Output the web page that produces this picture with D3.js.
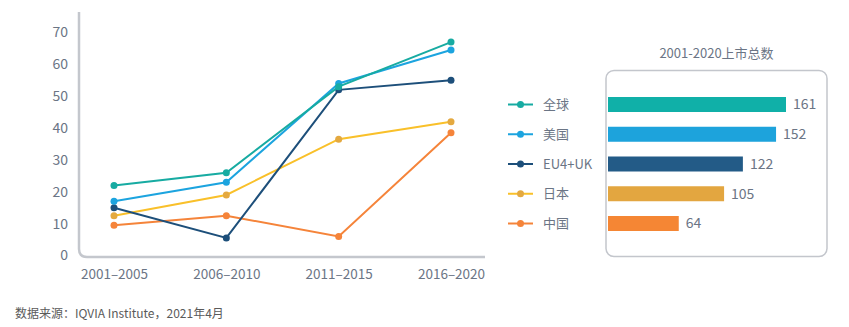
<!DOCTYPE html>
<html>
<head>
<meta charset="utf-8">
<script src="https://cdn.jsdelivr.net/npm/d3@7"></script>
<style>
  html, body { margin: 0; padding: 0; background: #fff; }
  svg { display: block; font-family: "Noto Sans CJK SC", "Noto Sans", sans-serif; }
</style>
</head>
<body>
<svg id="chart" width="849" height="327"></svg>
<script>
// ---- data ----
const periods = ["2001–2005", "2006–2010", "2011–2015", "2016–2020"];
const seriesNames = ["全球", "美国", "EU4+UK", "日本", "中国"];
const globalVals = [22, 26, 53, 67];
const usVals = [17, 23, 54, 64.5];
const euVals = [15, 5.5, 52, 55];
const japanVals = [12.5, 19, 36.5, 42];
const chinaVals = [9.5, 12.5, 6, 38.5];
const totals = [161, 152, 122, 105, 64];
const yTicks = [0, 10, 20, 30, 40, 50, 60, 70];
const barTitle = "2001-2020上市总数";
const footnote = "数据来源：IQVIA Institute，2021年4月";

const lineColors = ["#17aba2", "#1ca4df", "#1d4f7a", "#f9c02a", "#f5843a"];
const markerColors = ["#17aba2", "#1ca4df", "#1d4f7a", "#e4a940", "#f5843a"];
const barColors = ["#10b0a8", "#1da3dc", "#235b87", "#e3a640", "#f58634"];
const textColor = "#6b7585";

const series = [globalVals, usVals, euVals, japanVals, chinaVals].map((v, i) => ({
  name: seriesNames[i], values: v, line: lineColors[i], marker: markerColors[i]
}));

const svg = d3.select("#chart");

// ---- line chart ----
const x = d3.scalePoint().domain(periods).range([114, 451]);
const y = d3.scaleLinear().domain([0, 70]).range([255.5, 32.5]);

// L-shaped rounded axis
svg.append("path")
  .attr("d", `M79,12 V249 Q79,257 87,257 H485`)
  .attr("fill", "none")
  .attr("stroke", "#c4c7cd")
  .attr("stroke-width", 2.5);

const yAxis = svg.append("g")
  .attr("transform", "translate(68,0)")
  .call(d3.axisLeft(y).tickValues(yTicks).tickSize(0).tickPadding(0));
yAxis.select(".domain").remove();
yAxis.selectAll("text")
  .attr("fill", textColor)
  .style("font-size", "14px")
  .style("font-family", '"Noto Sans CJK SC", sans-serif');

const xAxis = svg.append("g")
  .attr("transform", "translate(0,269)")
  .call(d3.axisBottom(x).tickSize(0).tickPadding(0));
xAxis.select(".domain").remove();
xAxis.selectAll("text")
  .attr("fill", textColor)
  .style("font-size", "13.5px")
  .style("font-family", '"Noto Sans CJK SC", sans-serif');

const line = d3.line().x((d, i) => x(periods[i])).y(d => y(d));

// draw in reverse so global is on top
series.slice().reverse().forEach(s => {
  svg.append("path")
    .datum(s.values)
    .attr("d", line)
    .attr("fill", "none")
    .attr("stroke", s.line)
    .attr("stroke-width", 2);
  svg.append("g").selectAll("circle")
    .data(s.values)
    .join("circle")
    .attr("cx", (d, i) => x(periods[i]))
    .attr("cy", d => y(d))
    .attr("r", 3.5)
    .attr("fill", s.marker);
});

// ---- legend ----
const ly = d3.scalePoint().domain(seriesNames).range([104.5, 223.5]);
const legend = svg.append("g");
series.forEach(s => {
  const g = legend.append("g").attr("transform", `translate(0,${ly(s.name)})`);
  g.append("line").attr("x1", 508).attr("x2", 533).attr("y1", 0).attr("y2", 0)
    .attr("stroke", s.line).attr("stroke-width", 2);
  g.append("circle").attr("cx", 520.5).attr("cy", 0).attr("r", 3.5).attr("fill", s.marker);
  g.append("text").attr("x", 543).attr("y", 0).attr("dy", "0.35em")
    .attr("fill", textColor).style("font-size", "13px").text(s.name);
});

// ---- bar panel ----
svg.append("rect")
  .attr("x", 606).attr("y", 70.5).attr("width", 221).attr("height", 186)
  .attr("rx", 8).attr("fill", "none")
  .attr("stroke", "#c3c6cc").attr("stroke-width", 1.5);

svg.append("text")
  .attr("x", 716.5).attr("y", 53).attr("dy", "0.35em")
  .attr("text-anchor", "middle")
  .attr("fill", textColor).style("font-size", "13px")
  .text(barTitle);

const bx = d3.scaleLinear().domain([0, 161]).range([608, 786]);
const barH = 15;
svg.append("g").selectAll("rect")
  .data(totals)
  .join("rect")
  .attr("x", bx(0))
  .attr("y", (d, i) => ly(seriesNames[i]) - barH / 2)
  .attr("width", d => bx(d) - bx(0))
  .attr("height", barH)
  .attr("fill", (d, i) => barColors[i]);

svg.append("g").selectAll("text")
  .data(totals)
  .join("text")
  .attr("x", d => bx(d) + 7)
  .attr("y", (d, i) => ly(seriesNames[i]))
  .attr("dy", "0.35em")
  .attr("fill", textColor)
  .style("font-size", "14px")
  .text(d => d);

// ---- footnote ----
svg.append("text")
  .attr("x", 15).attr("y", 314).attr("dy", "0.35em")
  .attr("fill", "#5a5a5a").style("font-size", "12px")
  .text(footnote);
</script>
</body>
</html>
